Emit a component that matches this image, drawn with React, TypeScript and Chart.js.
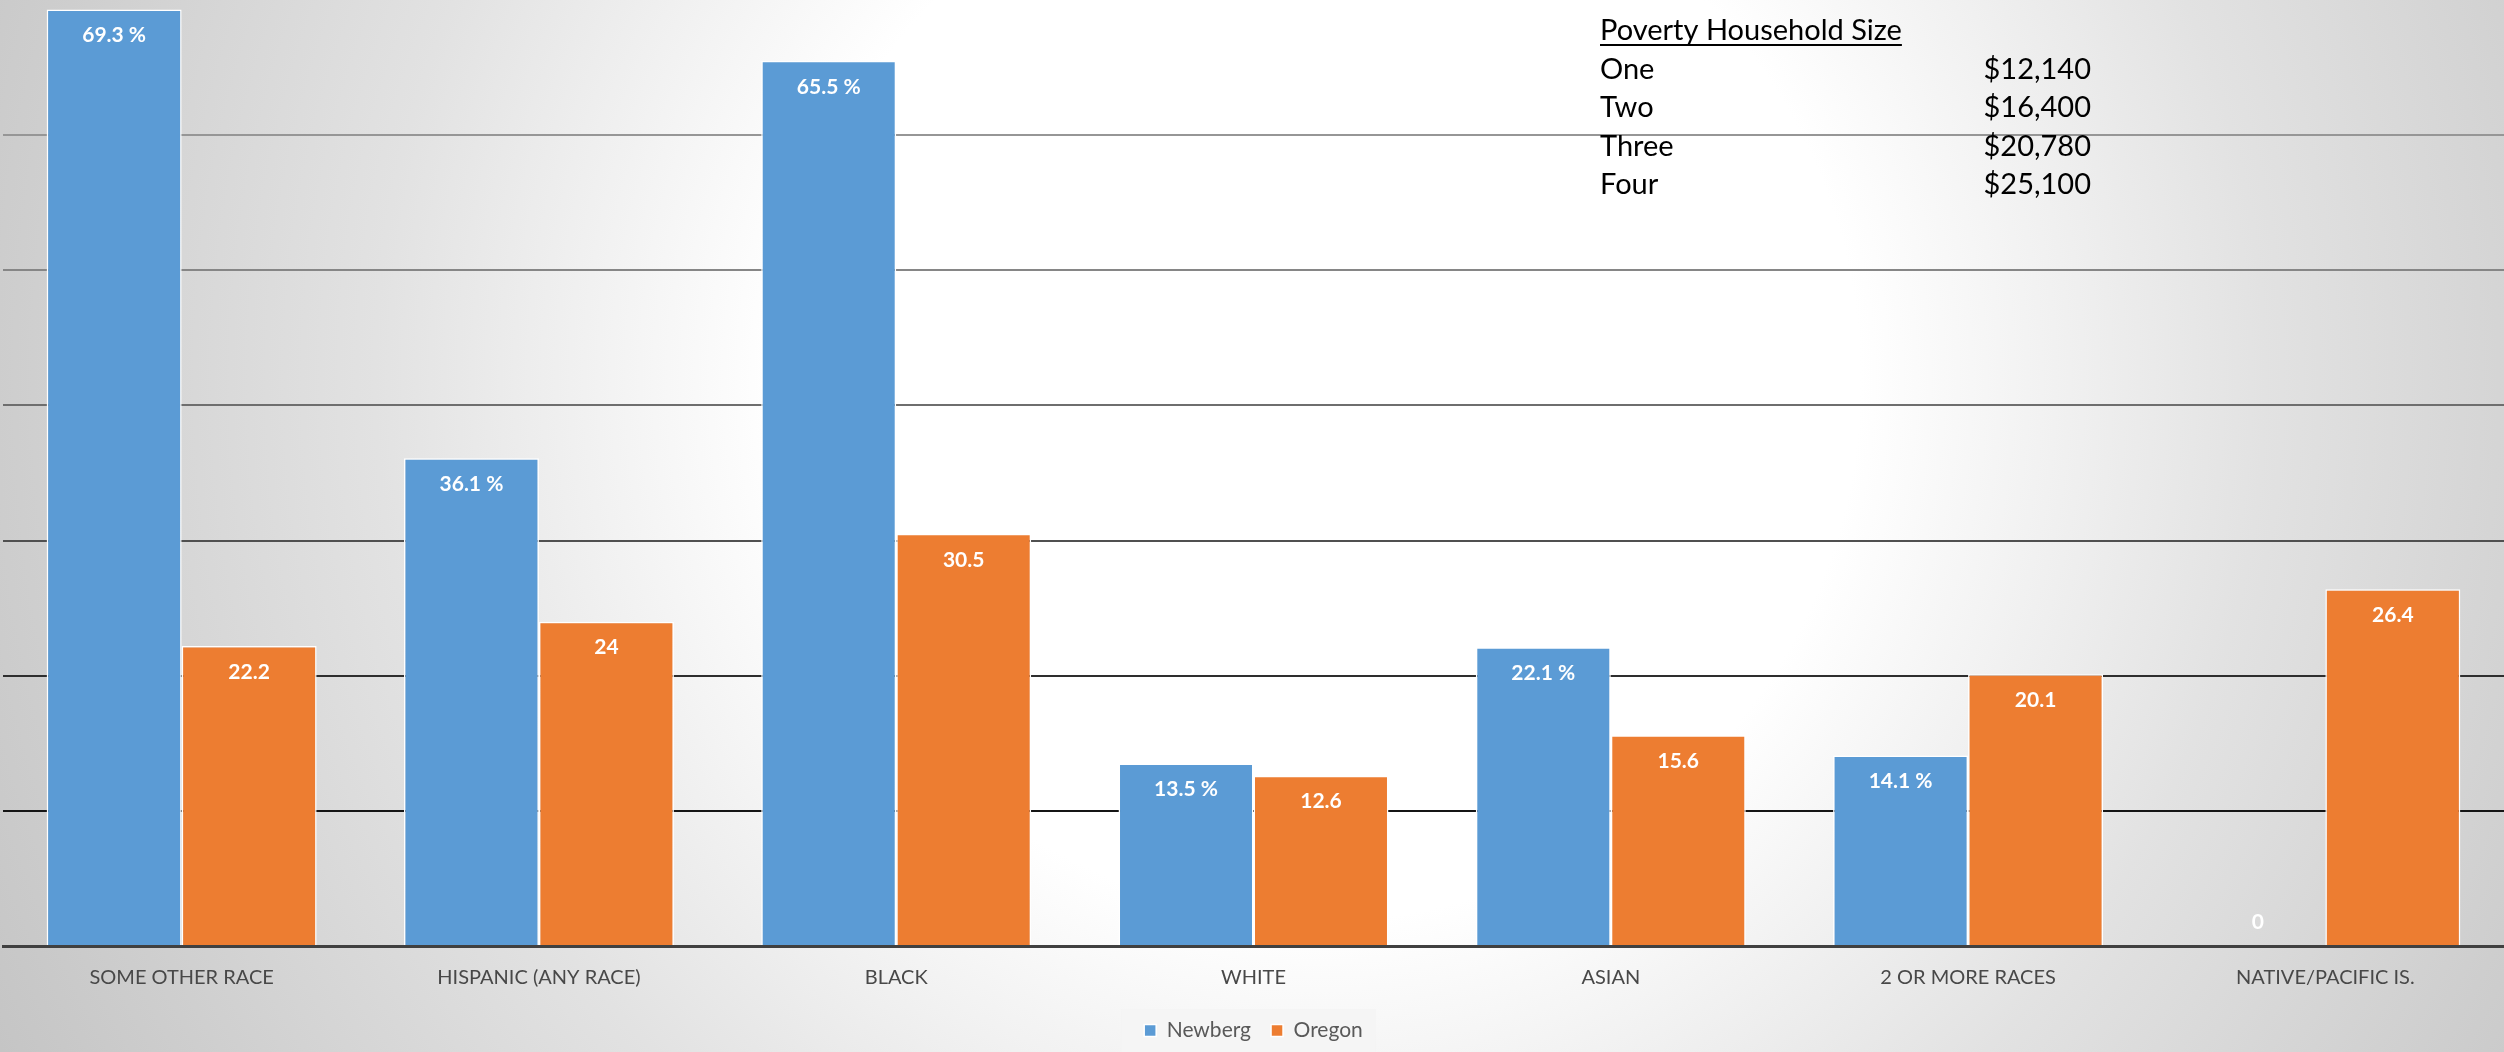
import React, { useEffect, useRef } from 'react';
import { Chart, registerables } from 'chart.js';

Chart.register(...registerables);

const categories = [
  'SOME OTHER RACE',
  'HISPANIC (ANY RACE)',
  'BLACK',
  'WHITE',
  'ASIAN',
  '2 OR MORE RACES',
  'NATIVE/PACIFIC IS.',
];
const seriesNames = ['Newberg', 'Oregon'];
const newbergValues = [69.3, 36.1, 65.5, 13.5, 22.1, 14.1, 0];
const oregonValues = [22.2, 24, 30.5, 12.6, 15.6, 20.1, 26.4];

const povertyTitle = 'Poverty Household Size';
const householdSizes = ['One', 'Two', 'Three', 'Four'];
const povertyThresholds = ['$12,140', '$16,400', '$20,780', '$25,100'];

const FONT = "Lato, 'Open Sans', sans-serif";
const BLUE = '#5B9BD5';
const ORANGE = '#ED7D31';

const gridColorFor = (v: number) => {
  const m: Record<number, string> = {
    10: '#151515',
    20: '#2e2e2e',
    30: '#505050',
    40: '#6e6e6e',
    50: '#868686',
    60: '#969696',
  };
  return m[v] || 'rgba(0,0,0,0)';
};

const backgroundPlugin = {
  id: 'bgPlugin',
  beforeDraw(chart: any) {
    const { ctx, width, height } = chart;
    ctx.save();
    const g = ctx.createRadialGradient(1320, 380, 0, 1320, 380, 1500);
    g.addColorStop(0, '#ffffff');
    g.addColorStop(0.36, '#ffffff');
    g.addColorStop(0.63, '#e2e2e2');
    g.addColorStop(0.87, '#cecece');
    g.addColorStop(1, '#c4c4c4');
    ctx.fillStyle = g;
    ctx.fillRect(0, 0, width, height);
    const lg = chart.legend;
    if (lg && lg.legendHitBoxes && lg.legendHitBoxes.length) {
      const hb = lg.legendHitBoxes;
      const first = hb[0];
      const last = hb[hb.length - 1];
      const x0 = first.left - 23;
      const x1 = last.left + last.width + 13;
      ctx.fillStyle = 'rgba(245,245,245,0.85)';
      ctx.fillRect(x0, 1009, x1 - x0, height - 1009);
    }
    ctx.restore();
  },
};

const dataLabelPlugin = {
  id: 'dataLabels',
  afterDatasetsDraw(chart: any) {
    const ctx = chart.ctx;
    ctx.save();
    ctx.font = `bold 21px ${FONT}`;
    ctx.fillStyle = '#ffffff';
    ctx.textAlign = 'center';
    ctx.textBaseline = 'middle';
    chart.data.datasets.forEach((ds: any, di: number) => {
      const meta = chart.getDatasetMeta(di);
      meta.data.forEach((el: any, i: number) => {
        const v = ds.data[i];
        const text = di === 0 && v !== 0 ? `${v} %` : `${v}`;
        const y = v === 0 ? el.base - 24 : el.y + 26;
        ctx.fillText(text, el.x, y);
      });
    });
    ctx.restore();
  },
};

const tablePlugin = {
  id: 'povertyTable',
  afterDraw(chart: any) {
    const ctx = chart.ctx;
    ctx.save();
    ctx.font = `29px ${FONT}`;
    ctx.fillStyle = '#000000';
    ctx.textBaseline = 'alphabetic';
    ctx.textAlign = 'left';
    const left = 1600;
    ctx.fillText(povertyTitle, left, 40);
    const w = ctx.measureText(povertyTitle).width;
    ctx.fillRect(left, 44, w, 2);
    const baselines = [79, 117, 156, 194];
    householdSizes.forEach((s, i) => {
      ctx.textAlign = 'left';
      ctx.fillText(s, left, baselines[i]);
      ctx.textAlign = 'right';
      ctx.fillText(povertyThresholds[i], 2091, baselines[i]);
    });
    ctx.restore();
  },
};

export default function App() {
  const ref = useRef<HTMLCanvasElement | null>(null);

  useEffect(() => {
    document.body.style.margin = '0';
    const canvas = ref.current;
    if (!canvas) return;
    const chart = new Chart(canvas, {
      type: 'bar',
      data: {
        labels: categories,
        datasets: [
          {
            label: seriesNames[0],
            data: newbergValues,
            backgroundColor: BLUE,
            borderColor: '#ffffff',
            borderWidth: 1.5,
            borderSkipped: 'start',
          },
          {
            label: seriesNames[1],
            data: oregonValues,
            backgroundColor: ORANGE,
            borderColor: '#ffffff',
            borderWidth: 1.5,
            borderSkipped: 'start',
          },
        ],
      },
      options: {
        responsive: false,
        animation: false,
        devicePixelRatio: 1,
        layout: { padding: { left: 3, right: 0, top: -3, bottom: 1 } },
        datasets: {
          bar: { categoryPercentage: 0.7556, barPercentage: 1 },
        },
        plugins: {
          tooltip: { enabled: false },
          legend: {
            display: true,
            position: 'bottom',
            labels: {
              color: '#595959',
              font: { family: FONT, size: 21 },
              boxWidth: 12,
              boxHeight: 12,
              padding: 20,
            },
          },
        },
        scales: {
          x: {
            grid: { display: false },
            border: { display: true, color: '#404040', width: 3, z: 1 },
            ticks: {
              color: '#484848',
              font: { family: FONT, size: 20 },
              padding: 12,
              maxRotation: 0,
              autoSkip: false,
            },
            afterFit: (axis: any) => {
              axis.height = 54;
            },
          },
          y: {
            min: 0,
            max: 70,
            ticks: { display: false, stepSize: 10 },
            border: { display: false },
            grid: {
              drawTicks: false,
              lineWidth: 2,
              color: (c: any) => gridColorFor(c.tick ? c.tick.value : -1),
            },
          },
        },
      },
      plugins: [backgroundPlugin, dataLabelPlugin, tablePlugin],
    });
    return () => chart.destroy();
  }, []);

  return (
    <div style={{ position: 'fixed', left: 0, top: 0, width: 2504, height: 1052 }}>
      <canvas ref={ref} width={2504} height={1052} style={{ display: 'block' }} />
    </div>
  );
}
